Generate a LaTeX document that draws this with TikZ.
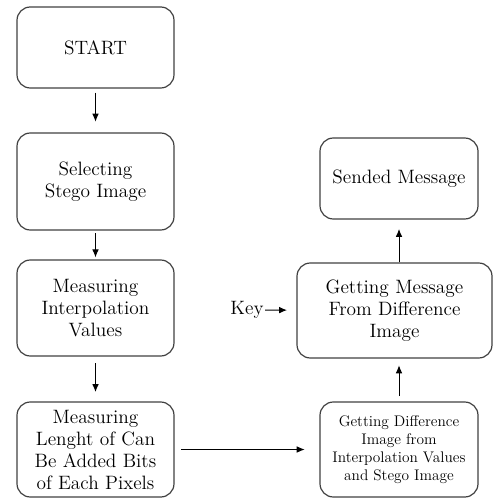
\documentclass[tikz,border=0pt]{standalone}
\usetikzlibrary{arrows.meta,positioning,calc}

\begin{document}
\begin{tikzpicture}[x=0.75pt,y=-0.75pt,>={Latex[length=6pt,width=5pt]},
 font=\fontsize{14.5}{16.5}\selectfont,
 box/.style={draw=black!75,line width=0.9pt,rounded corners=10pt,align=center,inner sep=2pt},
 sbox/.style={box,font=\fontsize{11.5}{13.5}\selectfont}]
\useasboundingbox (0,0) rectangle (493,498);
\node[box,minimum width=117.75pt,minimum height=60.75pt] (start) at (95.5,47.5) {START};
\node[box,minimum width=117.75pt,minimum height=72.75pt] (sel) at (95.5,181.5) {Selecting\\Stego Image};
\node[box,minimum width=117.75pt,minimum height=72pt] (interp) at (95.5,308) {Measuring\\Interpolation\\Values};
\node[box,minimum width=117.75pt,minimum height=71.25pt] (len) at (95.5,449.5) {Measuring\\Lenght of Can\\Be Added Bits\\of Each Pixels};
\node[sbox,minimum width=118.5pt,minimum height=71.25pt] (diff) at (399,449.5) {Getting Difference\\Image from\\Interpolation Values\\and Stego Image};
\node[box,minimum width=146.25pt,minimum height=71.25pt] (msg) at (394.5,310.5) {Getting Message\\From Difference\\Image};
\node[box,minimum width=118.5pt,minimum height=60.75pt] (sent) at (399,178.5) {Sended Message};
\node[inner sep=1pt] (key) at (247,310) {Key};
\draw[->,line width=0.75pt,shorten <=3pt,shorten >=8pt] (start) -- (sel);
\draw[->,line width=0.75pt,shorten <=2pt,shorten >=1.5pt] (sel) -- (interp);
\draw[->,line width=0.75pt,shorten <=5pt,shorten >=7pt] (interp) -- (len);
\draw[->,line width=0.75pt,shorten <=5pt,shorten >=11pt] (len) -- (diff);
\draw[->,line width=0.75pt,shorten <=4pt,shorten >=5pt] (diff) -- (diff |- msg.south);
\draw[->,line width=0.75pt,shorten >=7pt] (msg.north -| sent) -- (sent);
\draw[->,line width=0.75pt,shorten >=7pt] (key) -- (msg);
\end{tikzpicture}
\end{document}
